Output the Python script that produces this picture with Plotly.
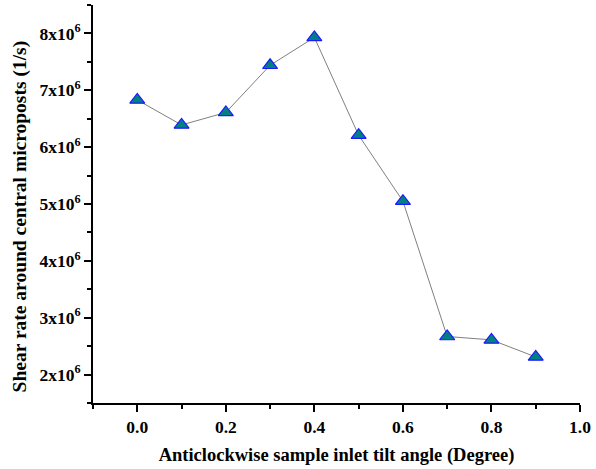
import plotly.graph_objects as go

angles = [0.0, 0.1, 0.2, 0.3, 0.4, 0.5, 0.6, 0.7, 0.8, 0.9]
shear = [6.83e6, 6.39e6, 6.61e6, 7.44e6, 7.93e6, 6.21e6, 5.05e6, 2.67e6, 2.61e6, 2.31e6]

y_tickvals = [2e6, 3e6, 4e6, 5e6, 6e6, 7e6, 8e6]
y_ticktext = ["2x10<sup>6</sup>", "3x10<sup>6</sup>", "4x10<sup>6</sup>", "5x10<sup>6</sup>",
              "6x10<sup>6</sup>", "7x10<sup>6</sup>", "8x10<sup>6</sup>"]
x_tickvals = [0.0, 0.2, 0.4, 0.6, 0.8, 1.0]
x_ticktext = ["0.0", "0.2", "0.4", "0.6", "0.8", "1.0"]

font_family = "Liberation Serif"

fig = go.Figure()
fig.add_trace(go.Scatter(
    x=angles, y=shear, mode="lines+markers",
    line=dict(color="#808080", width=1),
    marker=dict(symbol="triangle-up", size=13, color="#008080",
                line=dict(color="#1a1aff", width=1.2)),
    showlegend=False,
))

fig.update_layout(
    width=596, height=469,
    margin=dict(l=93, r=13, t=5, b=66),
    plot_bgcolor="white", paper_bgcolor="white",
    font=dict(family=font_family, color="black"),
)
fig.update_xaxes(
    range=[-0.1, 1.0], tickvals=x_tickvals, ticktext=x_ticktext,
    ticks="outside", ticklen=7, tickwidth=1.5, tickcolor="black",
    minor=dict(dtick=0.1, tick0=0, ticks="outside", ticklen=4, tickwidth=1.5, tickcolor="black"),
    showline=True, linecolor="black", linewidth=2, showgrid=False, zeroline=False,
    tickfont=dict(size=17.5, family=font_family, weight="bold"),
    title=dict(text="<b>Anticlockwise sample inlet tilt angle (Degree)</b>",
               font=dict(size=18.5, family=font_family), standoff=12),
)
fig.update_yaxes(
    range=[1.5e6, 8.5e6], tickvals=y_tickvals, ticktext=y_ticktext,
    ticks="outside", ticklen=7, tickwidth=1.5, tickcolor="black",
    minor=dict(dtick=5e5, tick0=0, ticks="outside", ticklen=4, tickwidth=1.5, tickcolor="black"),
    showline=True, linecolor="black", linewidth=2, showgrid=False, zeroline=False,
    tickfont=dict(size=17.5, family=font_family, weight="bold"),
)
fig.add_annotation(
    text="<b>Shear rate around central microposts (1/s)</b>",
    xref="paper", yref="paper", x=-0.149, y=0.47,
    xanchor="center", yanchor="middle", textangle=-90, showarrow=False,
    font=dict(size=19.5, family=font_family, color="black"),
)

fig.write_html("out.html")
